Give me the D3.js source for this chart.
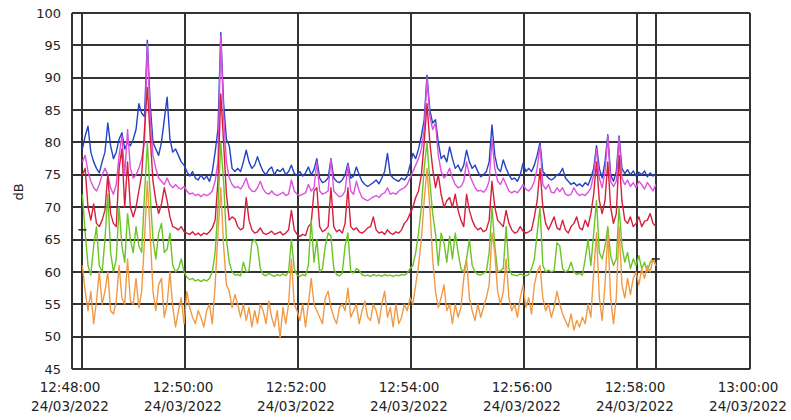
<!DOCTYPE html>
<html>
<head>
<meta charset="utf-8">
<script src="https://cdn.jsdelivr.net/npm/d3@7"></script>
<style>
  html, body { margin: 0; padding: 0; background: #fff; }
  svg { display: block; }
</style>
</head>
<body>
<svg id="chart" width="791" height="420"></svg>
<script>
// Sound level record, 24/03/2022, one reading every 3 s from 12:48:11
const sampleStart = new Date(2022, 2, 24, 12, 48, 11);
const sampleStepSeconds = 3;

const blueLevels = [
  79,81,82.5,78.5,77,76,75.3,77,78.5,83,
  79.5,77.5,78.5,80.5,81.5,79,80,79.5,80.5,82,
  86,84.5,84,95.8,86,80,79,78,80,83.5,
  87,80.5,78.5,79,78,77,76.5,75.5,74.8,75.5,
  74.5,74.2,75,74.3,74.8,74,75.5,78.5,82,97,
  86,80.5,79.5,76,75.5,76,75.5,77,78.8,77,
  76,76.5,77.8,76.5,75.5,75,75.8,76.2,75,75.8,
  75.5,76,75,75.5,76.5,75.2,75,75.5,74.8,75.3,
  76.2,75,75.8,77.5,74.5,73.8,74,74.5,77.5,74.5,
  74,73.8,74.2,75,76.8,74.5,74.8,76.2,75,74,
  73.5,73.2,73.5,73.8,74.2,73.6,74.5,75.5,78.3,75,
  74.5,74.2,74,74.5,74.2,74.8,76.5,78.3,77.5,79,
  81,83.5,90.4,85,83,83.5,80,77.5,78,77,
  79.3,77.5,76,76.5,75.5,76.5,78.8,77,76,76.5,
  75.5,74.7,75,75.5,77,82.7,78,76,75.5,77.3,
  76,75,74.3,74.5,74,75,76.8,75.5,76,75.5,
  76.5,78,80,75.5,75,74.5,74.2,74.5,75,75.2,
  76,74.5,74,73.5,73.8,73.3,73.6,73.2,73.8,73.4,
  74.5,76,79.5,76,74.5,77,81.2,75,74,75.5,
  81,76,75.2,75.8,75,75.6,74.8,75.4,75,75.6,
  74.7,75.3,74.8,75.2
];

const magentaLevels = [
  77,78,75.5,74,73,72.5,73.5,75,76,75,
  73,72,73.5,78,81,75,82,76,74.5,75,
  76,77.5,80,95.3,84,78,76,74.5,74,73.5,
  74.5,73.5,73,73.5,73,72.8,73.2,72.5,72,72.2,
  71.8,72,71.6,72,71.8,72,72.5,74,77,96.5,
  84,77,74.5,73.5,73,73.2,72.8,73.5,74.5,73,
  72.5,72.4,73,74,72.8,72.2,72,72.5,72,71.8,
  72,72.3,71.8,72,74.2,72.5,72,71.8,72,72.2,
  73.5,72.5,73,77,72.5,72,72.2,72.5,77.5,72.5,
  72,71.6,71.8,72.5,76.5,72.5,72,74,72.5,71.5,
  71.2,71,71.3,71.6,71.8,71.5,72,72.2,73,72,
  72.2,72,72.5,72.8,73,73.5,74.5,75.5,76.5,77.5,
  79,82,90,84,82,83,78,75.5,74.5,75,
  76,74.5,73.5,73,73.2,74,77,75,74,73,
  72.5,72.6,72.3,72.8,74,80.5,76,74,73.5,74.5,
  73.5,72.5,72.2,72.5,72.2,72.8,73.5,72.8,72.5,73,
  74,76,79.5,73.5,72.8,73.5,72.3,72.2,73,72.4,
  73,72,71.8,72,73,72.2,71.8,72,71.8,72.3,
  73,75,79,74.5,73,75.5,81,74,73.2,74,
  80.8,74.5,73.5,74.2,73.2,73.8,73,74,73.5,72.8,
  73.8,73.2,72.5,73.5
];

const redLevels = [
  75,76,70,68,70.5,67.5,67,68,69.5,75,
  69,67.5,67,76,79,70,77,70,68.5,70,
  72.5,75,82,88.5,81,74,71,69,70.5,73,
  71,68.5,67,66.8,66.5,67,66.2,66,65.8,66.2,
  65.7,66,65.6,66,65.8,66.2,66.8,68,74,87.5,
  80,72,68,68.5,68.2,67,66.5,66.8,71.5,68,
  66.5,66,66.2,66.8,66,65.8,66,66.3,65.8,66,
  66.2,65.7,66,66.5,69.5,66.5,65.8,65.5,65.8,65.6,
  67,67.5,72.5,73,67,66.2,66.5,67,73,67,
  66.2,66.5,66,67.5,73,67,66.5,66.8,66.2,66,
  66.3,66.8,67,68.5,66.5,66,66.2,65.8,66.5,66,
  65.8,66.2,66,66.5,67.5,68,69,70,71.5,72.5,
  75,80,86,80,76,73,75,72,70,71,
  71.5,70,72,69.5,68,67,72,69.5,68,67,
  66.5,66.8,66.2,66.5,68,74,70,68,67.5,67,
  69.5,67.5,66.5,66,66.2,67,66.3,66,66.2,66.5,
  68.5,71,76,70,67.5,66.5,67.5,68.5,66.8,66.5,
  68,66.5,66,67,67.5,68.5,66.8,66.5,68,67,
  69,72,77,71,69,71,77,70,67.5,69,
  78,71,68,67.5,68.5,67,67.5,68.5,67,67.8,
  68,69,67.5,67
];

const greenLevels = [
  72,66,61,59.5,64,67,61,60,65,72,
  63,60,62,70,64,61.5,69,65,63,67,
  64,63,72,80,72,65,62,66,67.5,63,
  63.5,66,61,60,60.5,62,60,59.2,58.8,59,
  58.6,58.8,58.5,58.8,58.6,59,60,63,70,80,
  74,65,61.5,60,59.5,59.6,59.4,61.5,60,60.2,
  64.5,65,64,60.5,59.6,59.4,59.8,59.5,59.3,59.6,
  59.4,59.7,59.4,60,65,60.5,59.5,59.3,59.6,59.4,
  61,68,61.5,65,60,60.5,64,66,65.5,60.5,
  59.6,59.4,59.8,64,66,60,59.8,60.5,60.2,59.6,
  59.4,59.5,59.3,59.6,59.4,59.5,59.3,59.6,59.4,59.5,
  59.3,59.5,59.4,59.6,59.5,59.8,60.5,61,63,66,
  70,76,80,74,69,66,61,66,64.5,61.5,
  65.5,62,66,63,60.5,60,62,65,61,60,
  59.6,59.5,59.8,60,63,70,64,60,60.2,60.5,
  67,60.5,59.6,59.5,59.4,59.7,59.5,59.4,59.6,60.5,
  62,66,70,61,60,60.3,60,60.2,64.5,64,
  60.5,60,60.3,61.5,60,59.6,59.8,59.5,62,65,
  61,66,71,63,62,64,67,62.5,61,62,
  70,64,61.5,63,60.5,62,61,62.5,60.5,61.5,
  60,61.5,62,61
];

const orangeLevels = [
  61,57,54,57,52,55.5,60,55,57,60,
  54,53.5,55.5,61,56,55,62,55.5,55,59,
  54.5,57,65,74,66,57,54,58,59,53,
  55,60,54.5,51.5,54,56,52,57,54.5,53,
  52,54,53,51.5,54,55,52,58,66,73,
  64,58,57,54.5,56.5,55,53,55,52.5,54.5,
  51.5,54,52,55,54,52,55.5,53,51.5,54,
  49.8,54.5,52,55,62,55,54,52.5,55,51.5,
  55,59,55,54,53,52,56,57,54.5,53,
  52,54.5,55,54,57.5,53,54,55,52,54,
  55.5,53,52.5,55,54,52,55,57,53,54.5,
  51.5,55,52,53,55,54,56,55,58,61,
  65,71,76,70,62,57,54.5,56,58,54,
  55,52,55,53,54.5,59,62,56,54,52.5,
  55,53,54.5,56,58,66,63,57,55,57,
  62,56,54,55,53,56,58,54.5,56,53.5,
  58,60,61,56,54,55,53,54.5,57,55,
  53.5,52.5,51.5,53.5,51,52.5,51.5,53,52,55,
  53,60,66,56,52.5,58,66,56,52,56,
  67,58,56,59,56.5,59,60,58,60.5,59,
  61,60,62,61
];

const seriesList = [
  { values: blueLevels,    color: "#2244c4" },
  { values: magentaLevels, color: "#dd52dc" },
  { values: redLevels,     color: "#d61f3c" },
  { values: greenLevels,   color: "#6cc426" },
  { values: orangeLevels,  color: "#f19a45" }
];

const yTickValues = [45, 50, 55, 60, 65, 70, 75, 80, 85, 90, 95, 100];
const xTickLabels = ["12:48:00", "12:50:00", "12:52:00", "12:54:00", "12:56:00", "12:58:00", "13:00:00"];
const xTickDate = "24/03/2022";
const cursorLevels = [66.5, 62];

const svg = d3.select("#chart");
const parseClock = t => {
  const [h, m, s] = t.split(":").map(Number);
  return new Date(2022, 2, 24, h, m, s);
};
const xTickTimes = xTickLabels.map(parseClock);

const x = d3.scaleTime()
  .domain([xTickTimes[0], xTickTimes[xTickTimes.length - 1]])
  .range([72, 750]);
const y = d3.scaleLinear().domain([45, 100]).range([369, 13]);

const timeAt = i => new Date(sampleStart.getTime() + i * sampleStepSeconds * 1000);
const firstTime = timeAt(0);
const lastTime = timeAt(blueLevels.length - 1);

const gridColor = "#333";
const grid = svg.append("g").attr("stroke", gridColor).attr("stroke-width", 2);

// horizontal grid at every 5 dB
grid.selectAll("line.h").data(yTickValues).join("line")
  .attr("class", "h")
  .attr("x1", x.range()[0]).attr("x2", x.range()[1])
  .attr("y1", d => Math.round(y(d))).attr("y2", d => Math.round(y(d)));

// vertical grid every two minutes
grid.selectAll("line.v").data(xTickTimes).join("line")
  .attr("class", "v")
  .attr("x1", d => Math.round(x(d))).attr("x2", d => Math.round(x(d)))
  .attr("y1", y(100)).attr("y2", y(45));

// start / end of the record
grid.selectAll("line.m").data([firstTime, lastTime]).join("line")
  .attr("class", "m")
  .attr("x1", d => Math.round(x(d))).attr("x2", d => Math.round(x(d)))
  .attr("y1", y(100)).attr("y2", y(45));

// level traces
const line = d3.line()
  .x((d, i) => x(timeAt(i)))
  .y(d => y(d))
  .curve(d3.curveLinear);

svg.append("g").selectAll("path").data(seriesList).join("path")
  .attr("d", d => line(d.values))
  .attr("fill", "none")
  .attr("stroke", d => d.color)
  .attr("stroke-width", 1.4)
  .attr("stroke-linejoin", "round");

// cursor marks at the start and end of the record
svg.append("g").attr("stroke", "#222").attr("stroke-width", 1.5)
  .selectAll("line").data([[firstTime, cursorLevels[0]], [lastTime, cursorLevels[1]]]).join("line")
  .attr("x1", d => x(d[0]) - 4).attr("x2", d => x(d[0]) + 4)
  .attr("y1", d => y(d[1])).attr("y2", d => y(d[1]));

const fontFamily = "'DejaVu Sans', Verdana, sans-serif";

// y axis labels
const yAxis = d3.axisLeft(y).tickValues(yTickValues).tickSize(0).tickPadding(11);
svg.append("g")
  .attr("transform", `translate(${x.range()[0]},0)`)
  .call(yAxis)
  .call(g => g.select(".domain").remove())
  .call(g => g.selectAll("text")
    .attr("fill", "#222")
    .style("font-family", fontFamily)
    .style("font-size", "13px"));

// x axis labels: time over date
const xLabels = svg.append("g")
  .style("font-family", fontFamily)
  .style("font-size", "13.5px")
  .attr("fill", "#222")
  .attr("text-anchor", "middle");
const xl = xLabels.selectAll("text").data(xTickTimes).join("text")
  .attr("transform", d => `translate(${x(d) - 2},0)`);
xl.append("tspan").attr("x", 0).attr("y", 392).text((d, i) => xTickLabels[i]);
xl.append("tspan").attr("x", 0).attr("y", 411).text(xTickDate);

// unit label
svg.append("text")
  .attr("transform", "translate(23,192) rotate(-90)")
  .attr("text-anchor", "middle")
  .style("font-family", fontFamily)
  .style("font-size", "13px")
  .attr("fill", "#222")
  .text("dB");
</script>
</body>
</html>
